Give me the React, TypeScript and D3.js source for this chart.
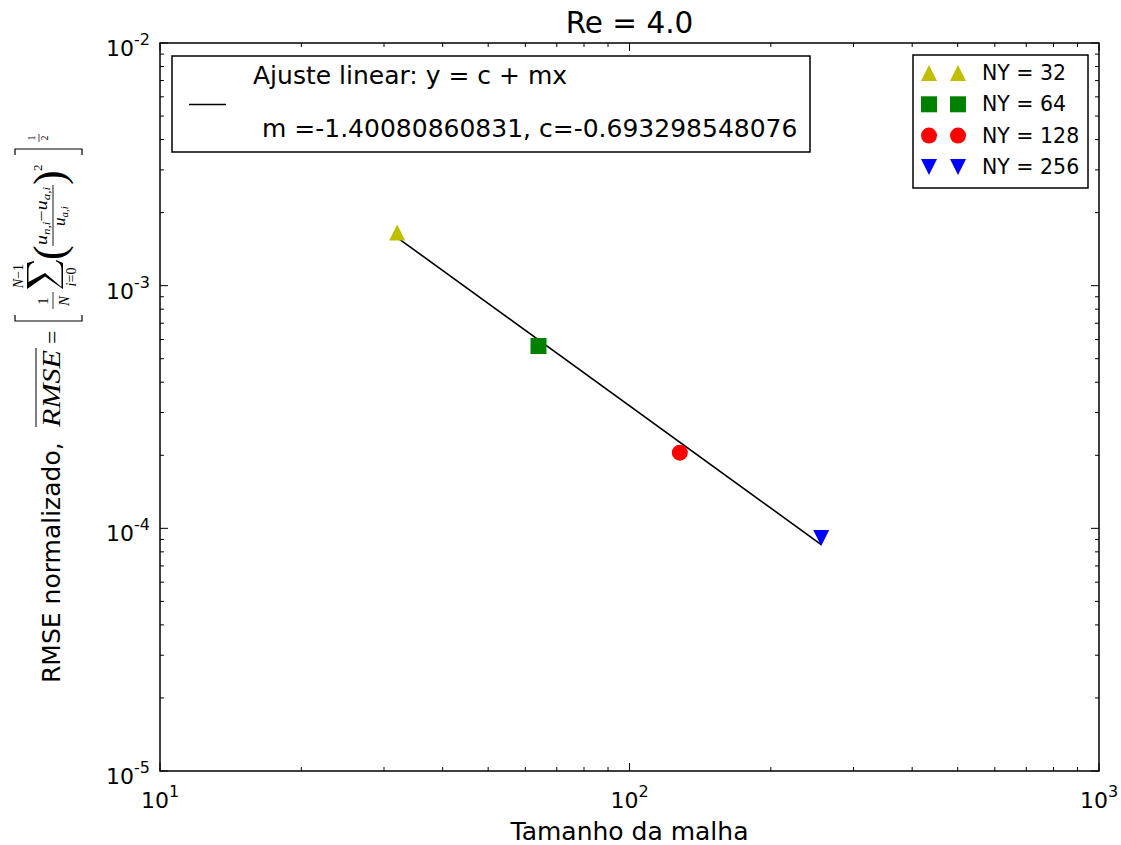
import React from 'react';
import * as d3 from 'd3';

// ---------- data ----------
const meshSizes = [32, 64, 128, 256];
const rmseValues = [1.656e-3, 5.64e-4, 2.05e-4, 9.13e-5];
const seriesLabels = ['NY = 32', 'NY = 64', 'NY = 128', 'NY = 256'];
const seriesColors = ['#bfbf00', '#008000', '#ff0000', '#0000ff'];
const seriesMarkers = ['triangle-up', 'square', 'circle', 'triangle-down'];
const fitSlope = -1.40080860831;
const fitIntercept = -0.693298548076;
const xDomain = [10, 1000];
const yDomain = [1e-5, 1e-2];
const titleText = 'Re = 4.0';
const xLabelText = 'Tamanho da malha';
const yLabelText = 'RMSE normalizado, ';
const fitLabelLine1 = 'Ajuste linear: y = c + mx';
const fitLabelLine2 = `m =${fitSlope}, c=${fitIntercept}`;

// ---------- layout ----------
const W = 1121, H = 845;
const L = 160, R = 1099, T = 43, B = 771;
const SANS = 'DejaVu Sans';
const SERIF = 'Liberation Serif';

function Marker({ type, x, y, s, color }: { type: string; x: number; y: number; s: number; color: string }) {
  const h = s / 2;
  if (type === 'square') return <rect x={x - h} y={y - h} width={s} height={s} fill={color} />;
  if (type === 'circle') return <circle cx={x} cy={y} r={h} fill={color} />;
  const d = type === 'triangle-up'
    ? `M${x},${y - h}L${x + h},${y + h}L${x - h},${y + h}Z`
    : `M${x},${y + h}L${x + h},${y - h}L${x - h},${y - h}Z`;
  return <path d={d} fill={color} />;
}

export default function App() {
  const xScale = d3.scaleLog().domain(xDomain).range([L, R]);
  const yScale = d3.scaleLog().domain(yDomain).range([B, T]);
  const isMajor = (v: number) => Math.abs(Math.log10(v) - Math.round(Math.log10(v))) < 1e-9;
  const xTicks = xScale.ticks();
  const yTicks = yScale.ticks();

  const fitX = [meshSizes[0], meshSizes[meshSizes.length - 1]];
  const fitLine = d3.line<number>()
    .x((v) => xScale(v))
    .y((v) => yScale(Math.pow(10, fitIntercept + fitSlope * Math.log10(v))));

  const MS = 16;

  return (
    <svg width={W} height={H} style={{ position: 'absolute', left: 0, top: 0, background: '#fff' }}>
      <rect x={0} y={0} width={W} height={H} fill="#fff" />
      {/* title */}
      <text x={(L + R) / 2} y={33} textAnchor="middle" fontFamily={SANS} fontSize={29.5}>{titleText}</text>

      {/* ticks */}
      {xTicks.map((v, i) => {
        const len = isMajor(v) ? 8 : 4;
        const x = xScale(v);
        return (
          <g key={'xt' + i} stroke="#000" strokeWidth={1}>
            <line x1={x} x2={x} y1={B} y2={B - len} />
            <line x1={x} x2={x} y1={T} y2={T + len} />
          </g>
        );
      })}
      {yTicks.map((v, i) => {
        const len = isMajor(v) ? 8 : 4;
        const y = yScale(v);
        return (
          <g key={'yt' + i} stroke="#000" strokeWidth={1}>
            <line x1={L} x2={L + len} y1={y} y2={y} />
            <line x1={R} x2={R - len} y1={y} y2={y} />
          </g>
        );
      })}

      {/* tick labels */}
      {xTicks.filter(isMajor).map((v, i) => (
        <text key={'xl' + i} x={xScale(v)} y={B + 37} textAnchor="middle" fontFamily={SANS} fontSize={22}>
          10<tspan dy={-11} fontSize={16}>{Math.round(Math.log10(v))}</tspan>
        </text>
      ))}
      {yTicks.filter(isMajor).map((v, i) => (
        <text key={'yl' + i} x={150} y={yScale(v) + 13} textAnchor="end" fontFamily={SANS} fontSize={22}>
          10<tspan dy={-11} fontSize={16}>{String(Math.round(Math.log10(v)))}</tspan>
        </text>
      ))}

      {/* fit line */}
      <path d={fitLine(fitX) || ''} fill="none" stroke="#000" strokeWidth={1.6} />

      {/* data markers */}
      {meshSizes.map((n, i) => (
        <Marker key={'m' + i} type={seriesMarkers[i]} x={xScale(n)} y={yScale(rmseValues[i])} s={MS} color={seriesColors[i]} />
      ))}

      {/* frame */}
      <rect x={L} y={T} width={R - L} height={B - T} fill="none" stroke="#000" strokeWidth={1.5} />

      {/* left legend */}
      <rect x={172} y={56} width={638} height={96} fill="#fff" stroke="#000" strokeWidth={1.5} />
      <line x1={189} x2={226} y1={104.5} y2={104.5} stroke="#000" strokeWidth={1.6} />
      <text x={253} y={84} fontFamily={SANS} fontSize={25}>{fitLabelLine1}</text>
      <text x={262} y={137} fontFamily={SANS} fontSize={25}>{fitLabelLine2}</text>

      {/* right legend */}
      <rect x={913} y={55} width={175} height={133} fill="#fff" stroke="#000" strokeWidth={1.5} />
      {seriesLabels.map((lab, i) => {
        const yy = 73 + i * 31.3;
        return (
          <g key={'lg' + i}>
            <Marker type={seriesMarkers[i]} x={929} y={yy} s={MS} color={seriesColors[i]} />
            <Marker type={seriesMarkers[i]} x={958} y={yy} s={MS} color={seriesColors[i]} />
            <text x={982} y={yy + 7} fontFamily={SANS} fontSize={20.5}>{lab}</text>
          </g>
        );
      })}

      {/* x label */}
      <text x={(L + R) / 2} y={840} textAnchor="middle" fontFamily={SANS} fontSize={25}>{xLabelText}</text>

      {/* y label (rotated, with math) */}
      <g transform="translate(60,683) rotate(-90)" fill="#000">
        <text x={0} y={0} fontFamily={SANS} fontSize={25}>{yLabelText}</text>
        <text x={256} y={0} fontFamily={SERIF} fontStyle="italic" fontSize={25} textLength={77} lengthAdjust="spacingAndGlyphs">RMSE</text>
        <line x1={256} x2={335} y1={-24} y2={-24} stroke="#000" strokeWidth={1} />
        <text x={339} y={0} fontFamily={SERIF} fontSize={24}>=</text>
        <path d="M368,22 L362,22 L362,-45 L368,-45" fill="none" stroke="#000" strokeWidth={1.2} />
        <text x={382} y={-12} textAnchor="middle" fontFamily={SERIF} fontSize={15}>1</text>
        <line x1={374} x2={391} y1={-7} y2={-7} stroke="#000" strokeWidth={0.8} />
        <text x={382} y={9} textAnchor="middle" fontFamily={SERIF} fontStyle="italic" fontSize={15}>N</text>
        <path
          d="M394,-33 L420,-33 L422,-26 L420.5,-26 C419,-30 417,-31.5 412,-31.5 L401,-31.5 L410,-15 L396,1.5 L413,1.5 C418,1.5 420,0 421.5,-4 L423,-4 L420,3 L394,3 L406.5,-15 Z"
          fill="#000"
        />
        <text x={407} y={-37} textAnchor="middle" fontFamily={SERIF} fontSize={14}>
          <tspan fontStyle="italic">N</tspan>−1
        </text>
        <text x={406} y={16} textAnchor="middle" fontFamily={SERIF} fontSize={14}>
          <tspan fontStyle="italic">i</tspan>=0
        </text>
        <text x={423} y={4} fontFamily={SERIF} fontSize={44}>(</text>
        <text x={467} y={-13} textAnchor="middle" fontFamily={SERIF} fontStyle="italic" fontSize={17} textLength={58} lengthAdjust="spacingAndGlyphs">
          u<tspan fontSize={11} dy={3}>n,i</tspan><tspan dy={-3} fontStyle="normal">−</tspan>u<tspan fontSize={11} dy={3}>a,i</tspan>
        </text>
        <line x1={437} x2={498} y1={-7} y2={-7} stroke="#000" strokeWidth={0.9} />
        <text x={467} y={5} textAnchor="middle" fontFamily={SERIF} fontStyle="italic" fontSize={17}>
          u<tspan fontSize={11} dy={3}>a,i</tspan>
        </text>
        <text x={498} y={4} fontFamily={SERIF} fontSize={44}>)</text>
        <text x={512} y={-18} fontFamily={SERIF} fontSize={13}>2</text>
        <path d="M528,22 L534,22 L534,-45 L528,-45" fill="none" stroke="#000" strokeWidth={1.2} />
        <text x={545} y={-25} textAnchor="middle" fontFamily={SERIF} fontSize={10}>1</text>
        <line x1={541} x2={549} y1={-21} y2={-21} stroke="#000" strokeWidth={0.7} />
        <text x={545} y={-12} textAnchor="middle" fontFamily={SERIF} fontSize={10}>2</text>
      </g>
    </svg>
  );
}
